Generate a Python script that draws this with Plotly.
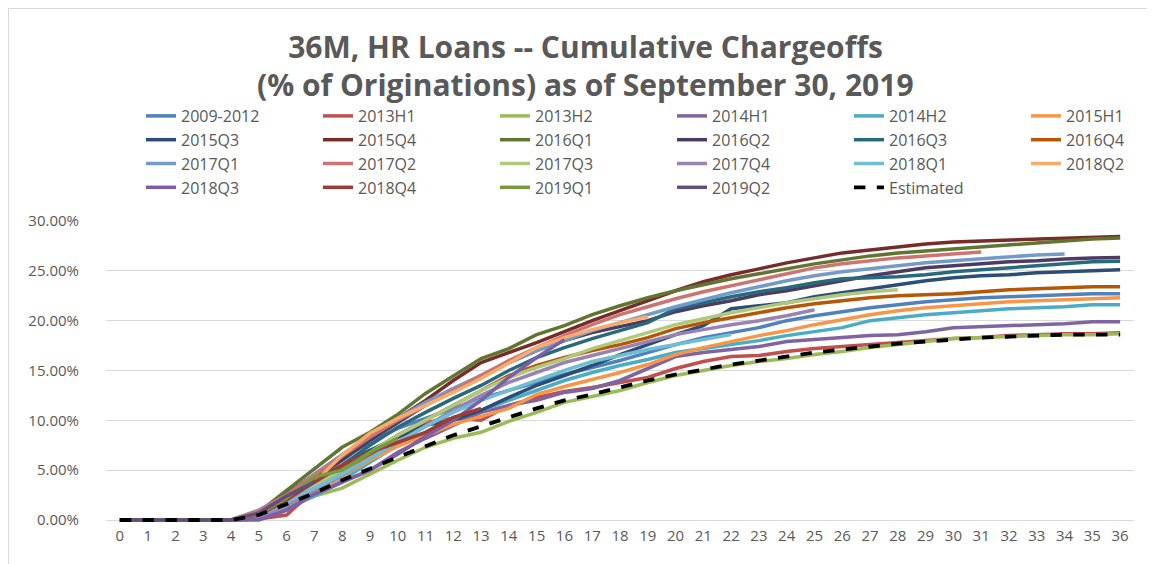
import plotly.graph_objects as go

# cumulative chargeoffs (% of originations) by month on book
months_ticks = list(range(0, 37))

s2009_2012 = [0, 0, 0, 0, 0, 0.8, 2.2, 4.2, 6.2, 7.8, 9.2, 10.2, 11.2, 12.2, 13.0, 13.8, 14.6, 15.3, 16.0, 16.8,
              17.6, 18.3, 18.8, 19.3, 20.0, 20.5, 20.9, 21.3, 21.6, 21.9, 22.1, 22.3, 22.4, 22.5, 22.6, 22.7, 22.7]
s2013h1 = [0, 0, 0, 0, 0, 0.1, 0.5, 3.0, 5.2, 6.8, 8.5, 9.8, 10.2, 10.0, 11.5, 12.3, 12.9, 13.3, 13.8, 14.3,
           15.2, 15.9, 16.4, 16.5, 16.9, 17.2, 17.4, 17.6, 17.8, 18.0, 18.2, 18.3, 18.5, 18.6, 18.7, 18.7, 18.8]
s2013h2 = [0, 0, 0, 0, 0, 0.3, 1.3, 2.4, 3.2, 4.6, 6.0, 7.3, 8.2, 8.8, 9.9, 10.8, 11.8, 12.4, 13.0, 13.8,
           14.5, 15.0, 15.5, 15.9, 16.2, 16.6, 16.9, 17.3, 17.6, 17.9, 18.2, 18.3, 18.4, 18.5, 18.6, 18.6, 18.7]
s2014h1 = [0, 0, 0, 0, 0, 0.1, 1.0, 2.5, 3.8, 5.0, 6.8, 8.2, 9.5, 10.8, 11.5, 12.0, 12.8, 13.2, 14.0, 15.2,
           16.4, 16.8, 17.1, 17.4, 17.9, 18.1, 18.3, 18.5, 18.6, 18.9, 19.3, 19.4, 19.5, 19.6, 19.7, 19.9, 19.9]
s2014h2 = [0, 0, 0, 0, 0, 0.4, 1.3, 2.4, 4.0, 5.8, 7.5, 8.8, 10.0, 11.0, 12.0, 13.0, 14.0, 14.8, 15.5, 16.1,
           16.8, 17.2, 17.6, 18.0, 18.5, 18.9, 19.3, 20.0, 20.3, 20.6, 20.8, 21.0, 21.2, 21.3, 21.4, 21.6, 21.6]
s2015h1 = [0, 0, 0, 0, 0, 0.3, 1.5, 2.8, 4.4, 6.0, 7.4, 8.5, 9.6, 10.4, 11.2, 12.6, 13.4, 14.1, 14.8, 15.6,
           16.6, 17.3, 17.9, 18.5, 19.0, 19.6, 20.1, 20.6, 21.0, 21.3, 21.5, 21.7, 21.9, 22.0, 22.1, 22.2, 22.3]
s2015q3 = [0, 0, 0, 0, 0, 0.6, 2.0, 4.0, 5.5, 7.0, 8.3, 9.5, 10.0, 11.0, 12.3, 13.5, 14.5, 15.5, 16.6, 17.6,
           18.6, 19.5, 21.2, 21.5, 21.8, 22.4, 22.8, 23.2, 23.6, 24.0, 24.3, 24.5, 24.6, 24.8, 24.9, 25.0, 25.1]
s2015q4 = [0, 0, 0, 0, 0, 0.7, 2.6, 4.5, 6.5, 8.2, 10.2, 12.0, 14.0, 15.8, 16.8, 17.8, 18.9, 20.0, 21.0, 22.0,
           23.0, 23.9, 24.6, 25.2, 25.8, 26.3, 26.8, 27.1, 27.4, 27.7, 27.9, 28.0, 28.1, 28.2, 28.3, 28.4, 28.45]
s2016q1 = [0, 0, 0, 0, 0, 0.8, 3.0, 5.2, 7.3, 8.8, 10.6, 12.7, 14.5, 16.2, 17.2, 18.6, 19.5, 20.6, 21.5, 22.3,
           23.0, 23.6, 24.2, 24.7, 25.2, 25.7, 26.1, 26.5, 26.8, 27.0, 27.2, 27.4, 27.6, 27.8, 28.0, 28.2, 28.3]
s2016q2 = [0, 0, 0, 0, 0, 0.6, 2.4, 4.3, 6.0, 8.0, 9.7, 11.5, 13.0, 14.5, 15.8, 17.0, 18.0, 18.8, 19.4, 20.0,
           20.9, 21.5, 22.0, 22.6, 23.0, 23.5, 24.0, 24.5, 24.9, 25.3, 25.5, 25.7, 25.9, 26.0, 26.2, 26.3, 26.35]
s2016q3 = [0, 0, 0, 0, 0, 0.7, 2.2, 3.8, 5.5, 7.5, 9.3, 10.8, 12.2, 13.5, 15.0, 16.3, 17.3, 18.2, 19.0, 19.8,
           21.2, 21.8, 22.4, 22.9, 23.3, 23.8, 24.2, 24.3, 24.4, 24.6, 24.9, 25.1, 25.3, 25.5, 25.7, 25.9, 25.95]
s2016q4 = [0, 0, 0, 0, 0, 0.5, 1.8, 3.5, 5.0, 6.5, 8.5, 10.0, 11.5, 13.0, 14.5, 15.5, 16.3, 17.0, 17.6, 18.3,
           19.2, 19.8, 20.3, 20.8, 21.3, 21.7, 22.0, 22.3, 22.5, 22.6, 22.7, 22.9, 23.1, 23.2, 23.3, 23.4, 23.4]
s2017q1 = [0, 0, 0, 0, 0, 1.0, 2.5, 4.6, 6.5, 8.5, 10.2, 11.8, 13.2, 14.5, 15.8, 17.0, 18.0, 19.0, 19.8, 20.6,
           21.4, 22.1, 22.8, 23.4, 24.0, 24.5, 24.9, 25.2, 25.5, 25.8, 26.0, 26.2, 26.4, 26.6, 26.7]
s2017q2 = [0, 0, 0, 0, 0, 0.9, 2.5, 4.5, 6.4, 8.3, 10.0, 11.5, 13.0, 14.5, 16.0, 17.3, 18.5, 19.6, 20.6, 21.4,
           22.2, 22.9, 23.5, 24.1, 24.7, 25.3, 25.7, 26.0, 26.3, 26.5, 26.7, 26.9]
s2017q3 = [0, 0, 0, 0, 0, 0.5, 1.8, 3.5, 5.0, 6.8, 8.5, 10.0, 11.5, 13.0, 14.3, 15.3, 16.2, 17.2, 18.0, 18.8,
           19.6, 20.2, 20.8, 21.3, 21.8, 22.2, 22.6, 22.9, 23.1]
s2017q4 = [0, 0, 0, 0, 0, 0.3, 1.5, 3.0, 4.5, 6.2, 7.8, 9.5, 11.0, 12.5, 13.8, 14.8, 15.8, 16.5, 17.2, 17.9,
           18.6, 19.1, 19.6, 20.0, 20.5, 21.1]
s2018q1 = [0, 0, 0, 0, 0, 0.5, 1.8, 3.2, 4.6, 6.2, 7.8, 9.4, 10.8, 12.0, 13.0, 14.0, 15.0, 15.9, 16.5, 17.1,
           17.6, 18.1, 18.6]
s2018q2 = [0, 0, 0, 0, 0, 0.6, 2.0, 3.8, 6.5, 8.7, 10.2, 11.5, 12.8, 14.2, 15.8, 17.3, 18.3, 19.1, 19.8, 20.4]
s2018q3 = [0, 0, 0, 0, 0, 0.0, 1.0, 2.6, 3.8, 5.0, 6.6, 8.4, 10.0, 12.0, 14.3, 16.3, 18.1]
s2018q4 = [0, 0, 0, 0, 0, 0.5, 2.0, 3.8, 5.5, 6.8, 7.8, 8.8, 10.3, 11.2]
s2019q1 = [0, 0, 0, 0, 0, 0.6, 2.2, 4.3, 5.0, 6.8, 8.2]
s2019q2 = [0, 0, 0, 0, 0, 0.7, 2.4, 3.8]
estimated = [0, 0, 0, 0, 0, 0.5, 1.6, 2.7, 4.0, 5.2, 6.3, 7.4, 8.5, 9.4, 10.3, 11.2, 12.0, 12.6, 13.3, 14.0,
             14.6, 15.1, 15.6, 16.0, 16.4, 16.8, 17.1, 17.4, 17.7, 17.9, 18.1, 18.3, 18.4, 18.5, 18.6, 18.6, 18.6]

series_names = ["2009-2012", "2013H1", "2013H2", "2014H1", "2014H2", "2015H1",
                "2015Q3", "2015Q4", "2016Q1", "2016Q2", "2016Q3", "2016Q4",
                "2017Q1", "2017Q2", "2017Q3", "2017Q4", "2018Q1", "2018Q2",
                "2018Q3", "2018Q4", "2019Q1", "2019Q2"]
series_values = [s2009_2012, s2013h1, s2013h2, s2014h1, s2014h2, s2015h1,
                 s2015q3, s2015q4, s2016q1, s2016q2, s2016q3, s2016q4,
                 s2017q1, s2017q2, s2017q3, s2017q4, s2018q1, s2018q2,
                 s2018q3, s2018q4, s2019q1, s2019q2]
series_colors = ["#4F81BD", "#C0504D", "#9BBB59", "#8064A2", "#4BACC6", "#F79646",
                 "#2C4D75", "#772C2A", "#5F7530", "#4D3B62", "#276A7C", "#B65708",
                 "#729ACA", "#CD7371", "#AFC97A", "#9983B5", "#6FBDD1", "#F9AB6B",
                 "#7D5FA6", "#9E3B38", "#789A3D", "#634C80"]

FONT = "'Open Sans', sans-serif"
TXT = "#595959"

W, H = 1155, 564
ml, mr, mt, mb = 98, 29, 213, 47
pw = W - ml - mr
ph = H - mt - mb

# legend laid out as 6 columns of 4 rows (Excel style)
legend_text_x = [180, 357, 534, 711, 888, 1065]
legend_top = 91
legend_ids = ["legend", "legend2", "legend3", "legend4", "legend5", "legend6"]

fig = go.Figure()

for i, (name, vals, color) in enumerate(zip(series_names, series_values, series_colors)):
    fig.add_trace(go.Scatter(
        x=list(range(len(vals))),
        y=[v / 100 for v in vals],
        mode="lines",
        name=name,
        legend=legend_ids[i % 6],
        line=dict(color=color, width=3.5),
    ))

fig.add_trace(go.Scatter(
    x=list(range(len(estimated))),
    y=[v / 100 for v in estimated],
    mode="lines",
    name="Estimated",
    legend=legend_ids[len(series_names) % 6],
    line=dict(color="black", width=3.8, dash="dash"),
))

legend_layout = {}
for lid, tx in zip(legend_ids, legend_text_x):
    legend_layout[lid] = dict(
        orientation="v",
        x=(tx - 47 - ml) / pw,
        xanchor="left",
        y=1 + (mt - legend_top) / ph,
        yanchor="top",
        bgcolor="rgba(0,0,0,0)",
        borderwidth=0,
        font=dict(family=FONT, size=16, color=TXT),
        traceorder="normal",
        tracegroupgap=0,
    )

fig.update_layout(
    width=W,
    height=H,
    margin=dict(l=ml, r=mr, t=mt, b=mb),
    plot_bgcolor="white",
    paper_bgcolor="white",
    font=dict(family=FONT, color=TXT, size=15),
    title=dict(
        text="<b>36M, HR Loans -- Cumulative Chargeoffs</b>",
        x=0.5,
        xanchor="center",
        xref="container",
        y=1 - 39 / H,
        yanchor="middle",
        yref="container",
        font=dict(family=FONT, size=30, color=TXT),
    ),
    annotations=[
        dict(text="<b>(% of Originations) as of September 30, 2019</b>",
             xref="paper", yref="paper",
             x=(W / 2 - ml) / pw, y=1 + (mt - 77) / ph,
             xanchor="center", yanchor="middle", showarrow=False,
             font=dict(family=FONT, size=30, color=TXT)),
    ],
    xaxis=dict(
        range=[-0.5, 36.5],
        tickmode="array",
        tickvals=months_ticks,
        ticktext=[str(m) for m in months_ticks],
        showgrid=False,
        zeroline=False,
        showline=False,
        ticks="",
        tickfont=dict(size=15, color=TXT),
        fixedrange=True,
    ),
    yaxis=dict(
        range=[-0.005, 0.30],
        tickmode="array",
        tickvals=[0, 0.05, 0.10, 0.15, 0.20, 0.25, 0.30],
        tickformat=".2%",
        showgrid=True,
        gridcolor="#D9D9D9",
        gridwidth=1,
        zeroline=False,
        showline=False,
        ticks="",
        ticklabelstandoff=26,
        tickfont=dict(size=15, color=TXT),
        fixedrange=True,
    ),
    showlegend=True,
    shapes=[
        dict(type="rect", xref="paper", yref="paper",
             x0=(0.5 - ml) / pw, x1=(W - 0.5 - ml) / pw,
             y0=-(mb - 0.5) / ph, y1=1 + (mt - 0.5) / ph,
             line=dict(color="#D9D9D9", width=1), layer="below"),
    ],
    **legend_layout,
)

fig.write_html("out.html")
